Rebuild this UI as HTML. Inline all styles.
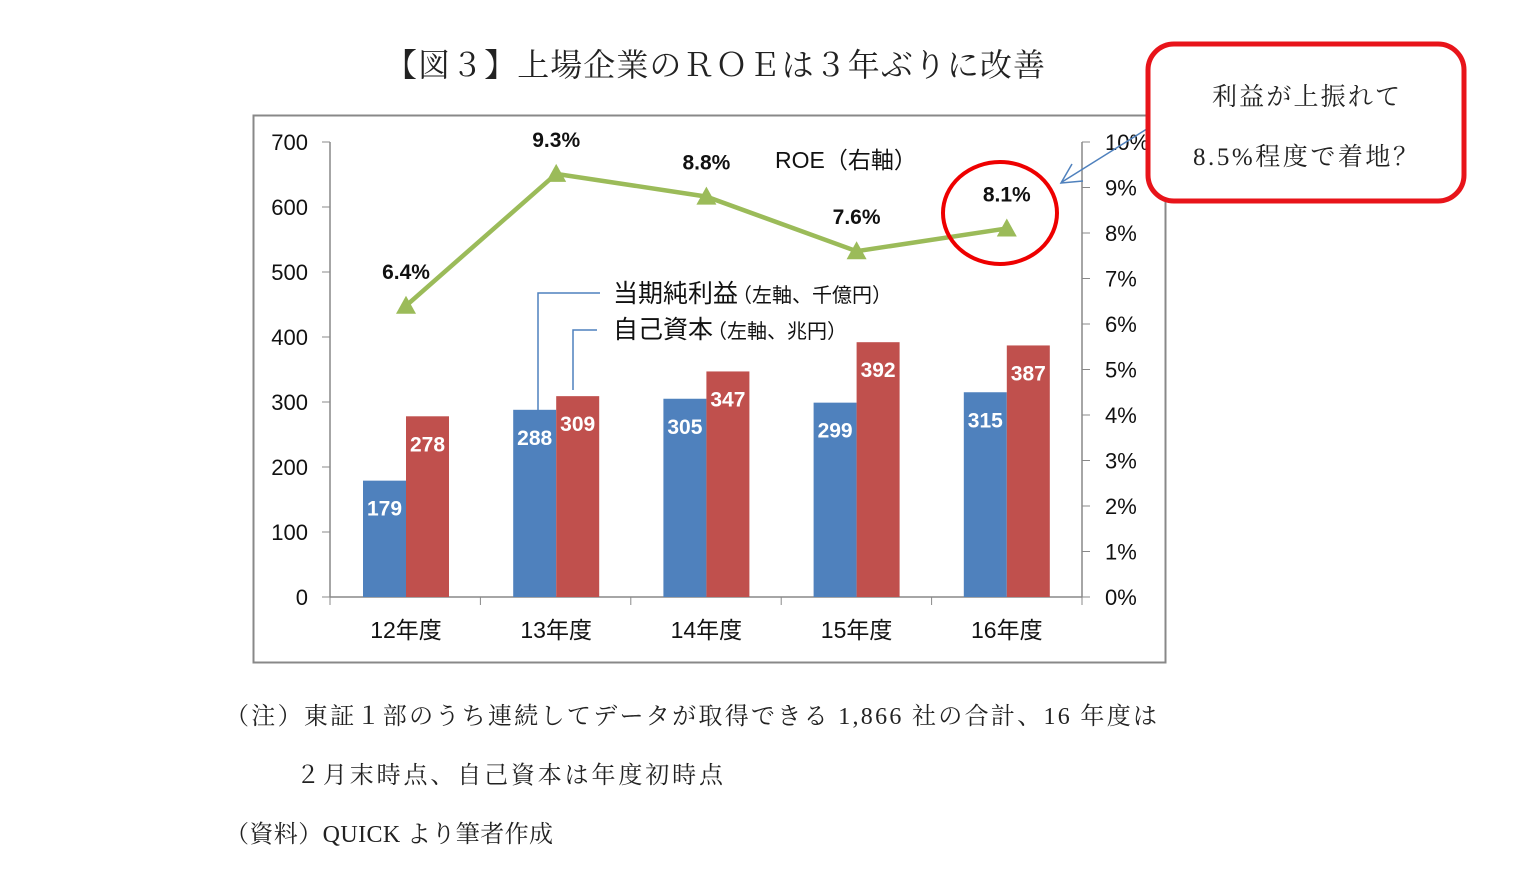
<!DOCTYPE html>
<html><head><meta charset="utf-8"><style>
body{margin:0;background:#fff;width:1514px;height:872px;overflow:hidden;font-family:"Liberation Sans","Noto Sans CJK JP",sans-serif}
svg{position:absolute;left:0;top:0}
</style></head><body>
<svg id="c" width="1514" height="872"></svg>
<script>
const categories=["12年度","13年度","14年度","15年度","16年度"];
const profit=[179,288,305,299,315];
const equity=[278,309,347,392,387];
const roe=[6.4,9.3,8.8,7.6,8.1];
const leftTicks=[0,100,200,300,400,500,600,700];
const rightTicks=[0,1,2,3,4,5,6,7,8,9,10];
const NS="http://www.w3.org/2000/svg";
const svg=document.getElementById('c');
function el(t,a,txt){const e=document.createElementNS(NS,t);for(const k in a)e.setAttribute(k,a[k]);if(txt!=null)e.textContent=txt;svg.appendChild(e);return e;}
const y0=597,yL=v=>y0-v*0.65,yR=v=>y0-v*45.5,xC=i=>406+i*150.2;
const JP='"Liberation Sans","Noto Sans CJK JP",sans-serif',SER='"Liberation Serif","Noto Serif CJK SC",serif';
let t=el('text',{x:385,y:76,'font-size':32,textLength:660,lengthAdjust:'spacing','font-family':SER,fill:'#222'},'【図３】上場企業のＲＯＥは３年ぶりに改善');

let f=el('rect',{x:253.5,y:115.5,width:912,height:547,fill:'none',stroke:'#888','stroke-width':2});

el('line',{x1:330,y1:142,x2:330,y2:597,stroke:'#888','stroke-width':1.5});
el('line',{x1:1082,y1:142,x2:1082,y2:597,stroke:'#888','stroke-width':1.5});
el('line',{x1:330,y1:597,x2:1082,y2:597,stroke:'#888','stroke-width':1.5});
leftTicks.forEach(v=>{el('line',{x1:322,y1:yL(v),x2:330,y2:yL(v),stroke:'#888'});
 const e=el('text',{x:308,y:yL(v)+8,'font-size':22,'text-anchor':'end','font-family':JP,fill:'#111'},v);
 });
rightTicks.forEach(v=>{el('line',{x1:1082,y1:yR(v),x2:1090,y2:yR(v),stroke:'#888'});
 const e=el('text',{x:1105,y:yR(v)+8,'font-size':22,'font-family':JP,fill:'#111'},v+'%');
 });
for(let i=0;i<=5;i++)el('line',{x1:330+i*150.4,y1:597,x2:330+i*150.4,y2:605,stroke:'#888'});
categories.forEach((c,i)=>{
 const e=el('text',{x:xC(i),y:638,'font-size':23,'text-anchor':'middle','font-family':JP,fill:'#111'},c);
 
 const b=el('rect',{x:xC(i)-43,y:yL(profit[i]),width:43,height:y0-yL(profit[i]),fill:'#4f81bd'});
 
 const r=el('rect',{x:xC(i),y:yL(equity[i]),width:43,height:y0-yL(equity[i]),fill:'#c0504d'});
 
 const l1=el('text',{x:xC(i)-21.5,y:yL(profit[i])+35,'font-size':21,'font-weight':'bold','text-anchor':'middle','font-family':JP,fill:'#fff'},profit[i]);
 
 const l2=el('text',{x:xC(i)+21.5,y:yL(equity[i])+35,'font-size':21,'font-weight':'bold','text-anchor':'middle','font-family':JP,fill:'#fff'},equity[i]);
 
});
const pl=el('polyline',{points:roe.map((v,i)=>xC(i)+','+yR(v)).join(' '),fill:'none',stroke:'#9bbb59','stroke-width':4.5});

roe.forEach((v,i)=>{const x=xC(i),y=yR(v);
 const m=el('polygon',{points:`${x},${y-10} ${x-10},${y+8} ${x+10},${y+8}`,fill:'#9bbb59'});
 
 const lab=el('text',{x:x,y:y-27,'font-size':21,'font-weight':'bold','text-anchor':'middle','font-family':JP,fill:'#111'},v.toFixed(1)+'%');
 });
let lt=el('text',{x:775,y:168,'font-size':23,'font-family':JP,fill:'#111'},'ROE（右軸）');

el('polyline',{points:'538,410 538,293 600,293',fill:'none',stroke:'#4f81bd','stroke-width':1.5});
el('polyline',{points:'573,390 573,330 597,330',fill:'none',stroke:'#4f81bd','stroke-width':1.5});
let a=el('text',{x:613,y:302,'font-family':JP,fill:'#111'});a.innerHTML='<tspan font-size="25">当期純利益</tspan><tspan font-size="20" dx="-6">（左軸、千億円）</tspan>';

let b=el('text',{x:613,y:338,'font-family':JP,fill:'#111'});b.innerHTML='<tspan font-size="25">自己資本</tspan><tspan font-size="20" dx="-6">（左軸、兆円）</tspan>';

let ci=el('ellipse',{cx:1000,cy:213,rx:57,ry:51,fill:'none',stroke:'#e00','stroke-width':4});

el('line',{x1:1150,y1:127,x2:1062,y2:182,stroke:'#4f81bd','stroke-width':1.5});
el('polyline',{points:'1072,164 1061,183 1083,181',fill:'none',stroke:'#4f81bd','stroke-width':1.5});
let cb=el('rect',{x:1148,y:44,width:316,height:157,rx:26,fill:'#fff',stroke:'#e8141a','stroke-width':5});

el('text',{x:1212,y:105,'font-size':25,textLength:188,lengthAdjust:'spacing','font-family':SER,fill:'#222'},'利益が上振れて');
el('text',{x:1193,y:165,'font-size':25,textLength:225,lengthAdjust:'spacing','font-family':SER,fill:'#222'},'8.5%程度で着地？');
[[225,724,932,'（注）東証１部のうち連続してデータが取得できる 1,866 社の合計、16 年度は'],[296,783,427,'２月末時点、自己資本は年度初時点'],[225,842,328,'（資料）QUICK より筆者作成']].forEach(n=>{
 const e=el('text',{x:n[0],y:n[1],'font-size':24,textLength:n[2],lengthAdjust:'spacing','font-family':SER,fill:'#222'},n[3]);
 });
</script>
</body></html>
